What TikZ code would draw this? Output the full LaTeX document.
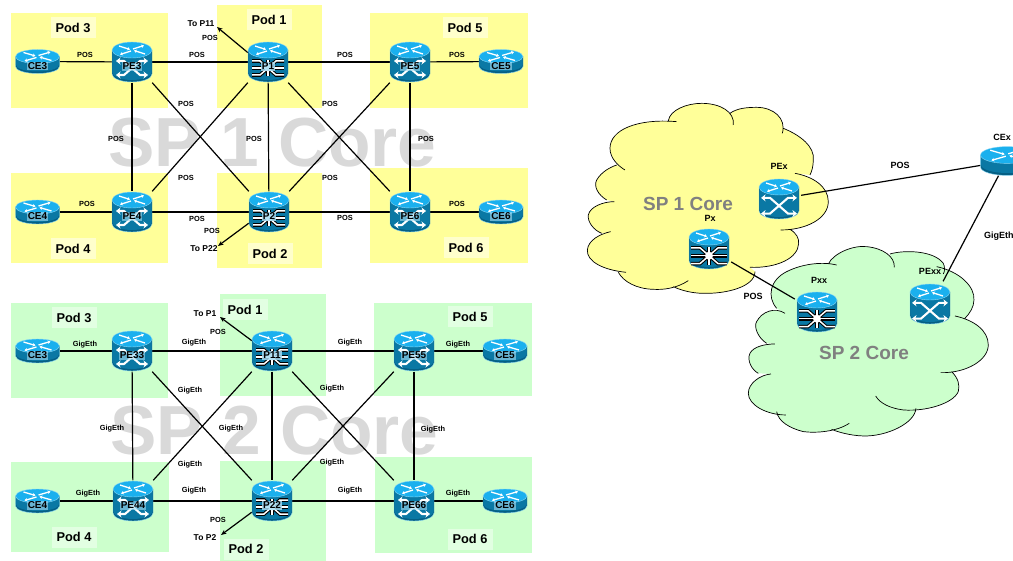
\documentclass[tikz,border=0pt]{standalone}
\usepackage{fontspec}
\setmainfont{Liberation Sans}
\usetikzlibrary{arrows.meta}
\definecolor{yel}{HTML}{FFFF99}
\definecolor{yellab}{HTML}{FFFFCC}
\definecolor{grn}{HTML}{CCFFCC}
\definecolor{grnlab}{HTML}{E2FFE2}
\definecolor{wm}{HTML}{D9D9D9}
\definecolor{cylbody}{HTML}{0A78A4}
\definecolor{cylrim}{HTML}{055F84}
\definecolor{cyltop}{HTML}{1AB0EE}
\definecolor{cyledge}{HTML}{8AD8F5}
\definecolor{patch}{HTML}{A8DCF2}
\newcommand{\cloudone}[1]{(320,95) .. controls (200,85) and (120,120) .. (120,175) .. controls (120,205) and (145,228) .. (165,240) #1
(140,225) .. controls (120,232) and (95,245) .. (80,270) .. controls (70,290) and (85,315) .. (110,330) #1
(133,335) .. controls (100,335) and (60,350) .. (55,375) .. controls (52,395) and (70,420) .. (95,430) #1
(122,425) .. controls (90,432) and (55,450) .. (52,480) .. controls (50,515) and (100,540) .. (168,547) #1
(145,547) .. controls (160,575) and (200,597) .. (250,598) .. controls (280,600) and (320,595) .. (355,572) #1
(310,590) .. controls (330,600) and (365,610) .. (400,610) .. controls (470,612) and (555,590) .. (555,545) #1
(540,532) .. controls (620,535) and (685,505) .. (686,460) .. controls (687,445) and (680,430) .. (660,418) #1
(632,420) .. controls (710,420) and (775,385) .. (775,335) .. controls (775,290) and (730,260) .. (675,250) #1
(720,255) .. controls (725,245) and (730,230) .. (730,210) .. controls (735,170) and (690,135) .. (640,115) #1
(637,130) .. controls (650,85) and (610,52) .. (560,52) .. controls (530,52) and (500,55) .. (480,70) #1
(490,105) .. controls (495,65) and (450,40) .. (395,40) .. controls (350,40) and (300,60) .. (295,92)}
\newcommand{\cloudtwo}[1]{(800,525) .. controls (760,515) and (700,520) .. (650,545) .. controls (600,570) and (590,620) .. (620,655) #1
(645,670) .. controls (615,650) and (575,665) .. (560,695) .. controls (550,710) and (565,745) .. (590,760) #1
(615,762) .. controls (585,762) and (550,770) .. (540,790) .. controls (530,810) and (545,840) .. (565,850) #1
(603,852) .. controls (570,855) and (535,880) .. (535,910) .. controls (535,945) and (590,975) .. (648,975) #1
(620,965) .. controls (625,995) and (660,1015) .. (700,1025) .. controls (740,1030) and (800,1025) .. (838,1000) #1
(785,1018) .. controls (800,1025) and (840,1037) .. (880,1038) .. controls (950,1040) and (1035,1000) .. (1038,955) #1
(917,918) .. controls (930,940) and (960,955) .. (1000,960) .. controls (1070,965) and (1150,940) .. (1165,905) .. controls (1170,885) and (1165,865) .. (1145,845) #1
(1112,848) .. controls (1190,850) and (1255,810) .. (1255,765) .. controls (1255,720) and (1210,690) .. (1155,678) #1
(1185,685) .. controls (1200,670) and (1212,650) .. (1212,630) .. controls (1215,590) and (1170,545) .. (1100,530) #1
(1120,552) .. controls (1125,545) and (1125,530) .. (1120,520) .. controls (1090,480) and (1000,480) .. (960,492) #1
(973,532) .. controls (975,500) and (940,475) .. (890,470) .. controls (850,465) and (790,490) .. (775,522)}
\tikzset{
  podlab/.style={font=\bfseries\fontsize{12.8}{14}\selectfont, minimum width=45pt, minimum height=21pt, inner sep=0pt},
  watermark/.style={font=\bfseries\fontsize{69.5}{72}\selectfont, text=wm, inner sep=0pt},
  cloudlab/.style={font=\bfseries\fontsize{19}{21}\selectfont, text=black!50, inner sep=0pt},
  lab/.style={font=\bfseries\fontsize{7.4}{8}\selectfont, inner sep=0pt},
  tolab/.style={font=\bfseries\fontsize{8.5}{9}\selectfont, inner sep=0pt},
  biglab/.style={font=\bfseries\fontsize{9}{10}\selectfont, inner sep=0pt},
  devtext/.style={font=\bfseries\fontsize{10}{11}\selectfont, fill=patch, fill opacity=.6, text opacity=1, inner sep=.8pt, yshift=-4.5pt},
  ptext/.style={devtext, fill opacity=.85, inner sep=1.2pt},
  anchorbig/.style={inner sep=0pt, minimum width=40pt, minimum height=41pt},
  anchorce/.style={inner sep=0pt, minimum width=44pt, minimum height=24pt},
  anchorhuge/.style={inner sep=0pt, minimum width=44pt, minimum height=45pt},
  anchorcehuge/.style={inner sep=0pt, minimum width=44pt, minimum height=29pt},
  link/.style={draw=black, line width=1.2pt},
  farlink/.style={link, -{Stealth[length=5.5pt,width=4.5pt]}},
  topx/.style={white, line width=1.3pt, -{Stealth[length=2.8pt,width=3.6pt]}},
  arrowx/.style={white, line width=2.1pt, {Stealth[length=4.5pt,width=7pt]}-{Stealth[length=4.5pt,width=7pt]}},
  spokeout/.style={black, line width=3.6pt},
  spokein/.style={white, line width=1.5pt},
  cylinder top/.pic={
    \fill[cyltop, draw=cyledge, line width=.4pt] (20,-12) .. controls (20,-16.4) and (11,-20) .. (0,-20) .. controls (-11,-20) and (-20,-16.4) .. (-20,-12) .. controls (-20,-7.6) and (-11,-4) .. (0,-4) .. controls (11,-4) and (20,-7.6) .. (20,-12) -- cycle;
    \draw[topx] (-13,-16) -- (-2,-12.5);
    \draw[topx] (13,-8) -- (2,-11.5);
    \draw[topx] (1,-13) -- (12,-16.5);
    \draw[topx] (-1,-11) -- (-12,-7.5);
  },
  cylinder body/.pic={
    \fill[cylrim, draw=cyledge, line width=.4pt] (-20,-12) -- (-20,12) .. controls (-20,16.4) and (-11,20) .. (0,20) .. controls (11,20) and (20,16.4) .. (20,12) -- (20,-12) -- cycle;
    \fill[cylbody] (-19.7,-12) -- (-19.7,10) .. controls (-19.7,14.4) and (-11,18) .. (0,18) .. controls (11,18) and (19.7,14.4) .. (19.7,10) -- (19.7,-12) -- cycle;
  },
  pe/.pic={
    \pic {cylinder body};
    \draw[arrowx] (-16,-1) -- (-8,-1) -- (8,13) -- (16,13);
    \draw[arrowx] (16,-1) -- (8,-1) -- (-8,13) -- (-16,13);
    \pic {cylinder top};
  },
  px/.pic={
    \pic {cylinder body};
    \foreach \s in {spokeout,spokein}{
      \draw[\s] (0,6) -- (-8,-1) -- (-16,-1);
      \draw[\s] (0,6) -- (8,-1) -- (16,-1);
      \draw[\s] (0,6) -- (-8,13) -- (-16,13);
      \draw[\s] (0,6) -- (8,13) -- (16,13);
      \draw[\s] (-16,6) -- (16,6);
      \draw[\s] (0,-2) -- (0,14);
    }
    \fill[white] (-3.5,6) .. controls (-3.5,3.5) and (-2,2.5) .. (0,2.5) .. controls (2,2.5) and (3.5,3.5) .. (3.5,6) .. controls (3.5,8.5) and (2,9.5) .. (0,9.5) .. controls (-2,9.5) and (-3.5,8.5) .. (-3.5,6) -- cycle;
    \pic {cylinder top};
  },
  ce/.pic={
    \fill[cylrim, draw=cyledge, line width=.4pt] (-22,-5) -- (-22,5) .. controls (-22,9) and (-12,12) .. (0,12) .. controls (12,12) and (22,9) .. (22,5) -- (22,-5) -- cycle;
    \fill[cylbody] (-21.7,-5) -- (-21.7,3) .. controls (-21.7,7) and (-12,10) .. (0,10) .. controls (12,10) and (21.7,7) .. (21.7,3) -- (21.7,-5) -- cycle;
    \fill[cyltop, draw=cyledge, line width=.4pt] (22,-5) .. controls (22,-9) and (12,-12) .. (0,-12) .. controls (-12,-12) and (-22,-9) .. (-22,-5) .. controls (-22,-1) and (-12,2) .. (0,2) .. controls (12,2) and (22,-1) .. (22,-5) -- cycle;
    \draw[topx] (-14,-9) -- (-2,-5.5);
    \draw[topx] (14,-1) -- (2,-4.5);
    \draw[topx] (1,-6) -- (13,-9.5);
    \draw[topx] (-1,-4) -- (-13,-.5);
  }
}
\begin{document}
\begin{tikzpicture}[x=1pt,y=-1pt]
\clip (0,0) rectangle (1013,561);
% top pods
\fill[yel] (11,13) rectangle (168,108);
\fill[yel] (217,5) rectangle (322,108);
\fill[yel] (370,13) rectangle (528,108);
\fill[yel] (11,173) rectangle (168,263);
\fill[yel] (217,173) rectangle (322,268);
\fill[yel] (370,168) rectangle (528,263);
% bottom pods
\fill[grn] (11,303) rectangle (168,398);
\fill[grn] (220,294) rectangle (326,396);
\fill[grn] (374,303) rectangle (532,396);
\fill[grn] (11,462) rectangle (169,552);
\fill[grn] (220,461) rectangle (326,561);
\fill[grn] (375,457) rectangle (532,553);
\node[podlab, fill=yellab] (t3) at (73,28) {Pod 3};
\node[podlab, fill=yellab] (t1) at (269,20) {Pod 1};
\node[podlab, fill=yellab] (t5) at (465,28) {Pod 5};
\node[podlab, fill=yellab] (t4) at (73,249) {Pod 4};
\node[podlab, fill=yellab] (t2) at (270,254) {Pod 2};
\node[podlab, fill=yellab] (t6) at (466,248) {Pod 6};
\node[podlab, fill=grnlab] (b3) at (74,318) {Pod 3};
\node[podlab, fill=grnlab] (b1) at (245,310) {Pod 1};
\node[podlab, fill=grnlab] (b5) at (470,317) {Pod 5};
\node[podlab, fill=grnlab] (b4) at (74,537) {Pod 4};
\node[podlab, fill=grnlab] (b2) at (246,549) {Pod 2};
\node[podlab, fill=grnlab] (b6) at (470,539) {Pod 6};
\node[watermark] (w1) at (272.5,143) {SP 1 Core};
\node[watermark] (w2) at (274.5,431) {SP 2 Core};
% clouds
\begin{scope}[shift={(570,90)},x=.3333pt,y=-.3333pt]
\fill[yel] \cloudone{--} -- cycle;
\draw[black, line width=.7pt] \cloudone{};
\fill[grn] \cloudtwo{--} -- cycle;
\draw[black, line width=.7pt] \cloudtwo{};
\end{scope}
\node[cloudlab] (c1) at (688,203.5) {SP 1 Core};
\node[cloudlab] (c2) at (864,352.5) {SP 2 Core};
% device anchors, top
\node[anchorce] (ce3) at (37.5,61.5) {};
\node[anchorbig] (pe3) at (132,62) {};
\node[anchorbig] (p1) at (268,62) {};
\node[anchorbig] (pe5) at (410,62) {};
\node[anchorce] (ce5) at (501,61.5) {};
\node[anchorce] (ce4) at (37.5,212) {};
\node[anchorbig] (pe4) at (132,212) {};
\node[anchorbig] (p2) at (269,212) {};
\node[anchorbig] (pe6) at (410,212) {};
\node[anchorce] (ce6) at (501,212) {};
% device anchors, bottom
\node[anchorce] (ce33) at (37.5,351) {};
\node[anchorbig] (pe33) at (132,351) {};
\node[anchorbig] (p11) at (272,351) {};
\node[anchorbig] (pe55) at (414,351) {};
\node[anchorce] (ce55) at (505,351) {};
\node[anchorce] (ce44) at (37.5,501) {};
\node[anchorbig] (pe44) at (133,501) {};
\node[anchorbig] (p22) at (272,501) {};
\node[anchorbig] (pe66) at (414,501) {};
\node[anchorce] (ce66) at (505,501) {};
% device anchors, right
\node[anchorhuge] (pex) at (779,199) {};
\node[anchorhuge] (pxa) at (709,249) {};
\node[anchorhuge] (pxx) at (817,312) {};
\node[anchorhuge] (pexx) at (930,304) {};
\node[anchorcehuge] (cex) at (1007,161) {};
\coordinate (top11) at (217,27);
\coordinate (top22) at (218,246);
\coordinate (bot1) at (220,317);
\coordinate (bot2) at (221,535);
% connectors
\draw[link] (ce3) -- (pe3);
\draw[link] (pe3) -- (p1);
\draw[link] (p1) -- (pe5);
\draw[link] (pe5) -- (ce5);
\draw[link] (ce4) -- (pe4);
\draw[link] (pe4) -- (p2);
\draw[link] (p2) -- (pe6);
\draw[link] (pe6) -- (ce6);
\draw[link] (pe3) -- (pe4);
\draw[link] (p1) -- (p2);
\draw[link] (pe5) -- (pe6);
\draw[link] (pe3.south east) -- (p2.north west);
\draw[link] (p1.south west) -- (pe4.north east);
\draw[link] (p1.south east) -- (pe6.north west);
\draw[link] (p2.north east) -- (pe5.south west);
\draw[farlink] (p1.155) -- (top11);
\draw[farlink] (p2.209) -- (top22);
\draw[link] (ce33) -- (pe33);
\draw[link] (pe33) -- (p11);
\draw[link] (p11) -- (pe55);
\draw[link] (pe55) -- (ce55);
\draw[link] (ce44) -- (pe44);
\draw[link] (pe44) -- (p22);
\draw[link] (p22) -- (pe66);
\draw[link] (pe66) -- (ce66);
\draw[link] (pe33) -- (pe44);
\draw[link] (p11) -- (p22);
\draw[link] (pe55) -- (pe66);
\draw[link] (pe33.south east) -- (p22.north west);
\draw[link] (p11.south west) -- (pe44.north east);
\draw[link] (p11.south east) -- (pe66.north west);
\draw[link] (p22.north east) -- (pe55.south west);
\draw[farlink] (p11.153) -- (bot1);
\draw[farlink] (p22.209) -- (bot2);
\draw[link] (pex) -- (cex);
\draw[link] (pxa) -- (pxx);
\draw[link] (pexx.60) -- (cex.240);
% icons, top
\pic at (ce3) {ce};
\pic at (pe3) {pe};
\pic at (p1) {px};
\pic at (pe5) {pe};
\pic at (ce5) {ce};
\pic at (ce4) {ce};
\pic at (pe4) {pe};
\pic at (p2) {px};
\pic at (pe6) {pe};
\pic at (ce6) {ce};
% icons, bottom
\pic at (ce33) {ce};
\pic at (pe33) {pe};
\pic at (p11) {px};
\pic at (pe55) {pe};
\pic at (ce55) {ce};
\pic at (ce44) {ce};
\pic at (pe44) {pe};
\pic at (p22) {px};
\pic at (pe66) {pe};
\pic at (ce66) {ce};
% icons, right
\pic[scale=1.12] at (pex) {pe};
\pic[scale=1.12] at (pxa) {px};
\pic[scale=1.12] at (pxx) {px};
\pic[scale=1.12] at (pexx) {pe};
\pic[scale=1.2] at (cex) {ce};
% device labels
\node[devtext] (l1) at (ce3) {CE3};
\node[devtext] (l2) at (pe3) {PE3};
\node[ptext] (l3) at (p1) {P1};
\node[devtext] (l4) at (pe5) {PE5};
\node[devtext] (l5) at (ce5) {CE5};
\node[devtext] (l6) at (ce4) {CE4};
\node[devtext] (l7) at (pe4) {PE4};
\node[ptext] (l8) at (p2) {P2};
\node[devtext] (l9) at (pe6) {PE6};
\node[devtext] (l10) at (ce6) {CE6};
\node[devtext] (l11) at (ce33) {CE3};
\node[devtext] (l12) at (pe33) {PE33};
\node[ptext] (l13) at (p11) {P11};
\node[devtext] (l14) at (pe55) {PE55};
\node[devtext] (l15) at (ce55) {CE5};
\node[devtext] (l16) at (ce44) {CE4};
\node[devtext] (l17) at (pe44) {PE44};
\node[ptext] (l18) at (p22) {P22};
\node[devtext] (l19) at (pe66) {PE66};
\node[devtext] (l20) at (ce66) {CE6};
\node[biglab] (r1) at (779,166) {PEx};
\node[biglab] (r2) at (710,218) {Px};
\node[biglab] (r3) at (819,280) {Pxx};
\node[biglab] (r4) at (930,271) {PExx};
\node[biglab] (r5) at (1002,137) {CEx};
\node[biglab] (r6) at (900,165) {POS};
\node[biglab] (r7) at (753,296) {POS};
\node[biglab, anchor=west] (r8) at (984,236) {GigEth};
% top labels
\node[lab] (a1) at (85,55) {POS};
\node[lab] (a2) at (197,55) {POS};
\node[lab] (a3) at (345,55) {POS};
\node[lab] (a4) at (457,55) {POS};
\node[tolab] (a5) at (201,24) {To P11};
\node[lab] (a6) at (210,38) {POS};
\node[lab] (a7) at (186,104) {POS};
\node[lab] (a8) at (330,104) {POS};
\node[lab] (a9) at (116,139) {POS};
\node[lab] (a10) at (254,139) {POS};
\node[lab] (a11) at (426,139) {POS};
\node[lab] (a12) at (186,178) {POS};
\node[lab] (a13) at (330,178) {POS};
\node[lab] (a14) at (87,204) {POS};
\node[lab] (a15) at (197,219) {POS};
\node[lab] (a16) at (345,218) {POS};
\node[lab] (a17) at (457,204) {POS};
\node[lab] (a18) at (212,231) {POS};
\node[tolab] (a19) at (204,249) {To P22};
% bottom labels
\node[lab] (g1) at (85,345) {GigEth};
\node[lab] (g2) at (194,343) {GigEth};
\node[lab] (g3) at (350,343) {GigEth};
\node[lab] (g4) at (458,345) {GigEth};
\node[tolab] (g5) at (205,314) {To P1};
\node[lab] (g6) at (218,332) {POS};
\node[lab] (g7) at (190,391) {GigEth};
\node[lab] (g8) at (332,389) {GigEth};
\node[lab] (g9) at (112,429) {GigEth};
\node[lab] (g10) at (231,429) {GigEth};
\node[lab] (g11) at (433,430) {GigEth};
\node[lab] (g12) at (190,465) {GigEth};
\node[lab] (g13) at (332,463) {GigEth};
\node[lab] (g14) at (88,494) {GigEth};
\node[lab] (g15) at (194,491) {GigEth};
\node[lab] (g16) at (350,491) {GigEth};
\node[lab] (g17) at (458,494) {GigEth};
\node[lab] (g18) at (218,520) {POS};
\node[tolab] (g19) at (205,538) {To P2};
\end{tikzpicture}
\end{document}
